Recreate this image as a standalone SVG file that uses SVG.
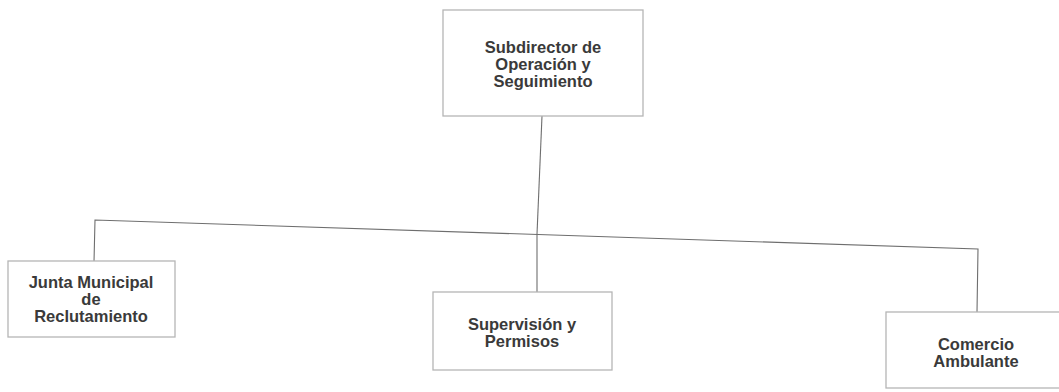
<svg xmlns="http://www.w3.org/2000/svg" width="1059" height="392" viewBox="0 0 1059 392">
<style>
.box{fill:#fff;stroke:#b5b5b5;stroke-width:1.3}
.lbl{font-family:"Liberation Sans",Arial,sans-serif;font-weight:bold;font-size:16.5px;fill:#3a3a3a;text-anchor:middle}
.conn{stroke:#6e6e6e;stroke-width:1.1;fill:none}
</style>
<rect width="1059" height="392" fill="#fff"/>
<g id="connectors">
<polyline class="conn" points="542,116 537,234"/>
<polyline class="conn" points="94,262 95,220 978,249 977,312"/>
<line class="conn" x1="537" y1="234" x2="537" y2="292"/>
</g>
<g id="n-subdirector">
<rect class="box" x="443" y="10" width="200" height="106"/>
<text class="lbl" x="543" y="53">Subdirector de</text>
<text class="lbl" x="543" y="70">Operación y</text>
<text class="lbl" x="543" y="87">Seguimiento</text>
</g>
<g id="n-junta">
<rect class="box" x="8" y="261" width="167" height="76"/>
<text class="lbl" x="91" y="288">Junta Municipal</text>
<text class="lbl" x="91" y="305">de</text>
<text class="lbl" x="91" y="322">Reclutamiento</text>
</g>
<g id="n-supervision">
<rect class="box" x="433" y="292" width="179" height="78"/>
<text class="lbl" x="522" y="330">Supervisión y</text>
<text class="lbl" x="522" y="347">Permisos</text>
</g>
<g id="n-comercio">
<rect class="box" x="886" y="312" width="180" height="76"/>
<text class="lbl" x="976" y="350">Comercio</text>
<text class="lbl" x="976" y="367">Ambulante</text>
</g>
</svg>
